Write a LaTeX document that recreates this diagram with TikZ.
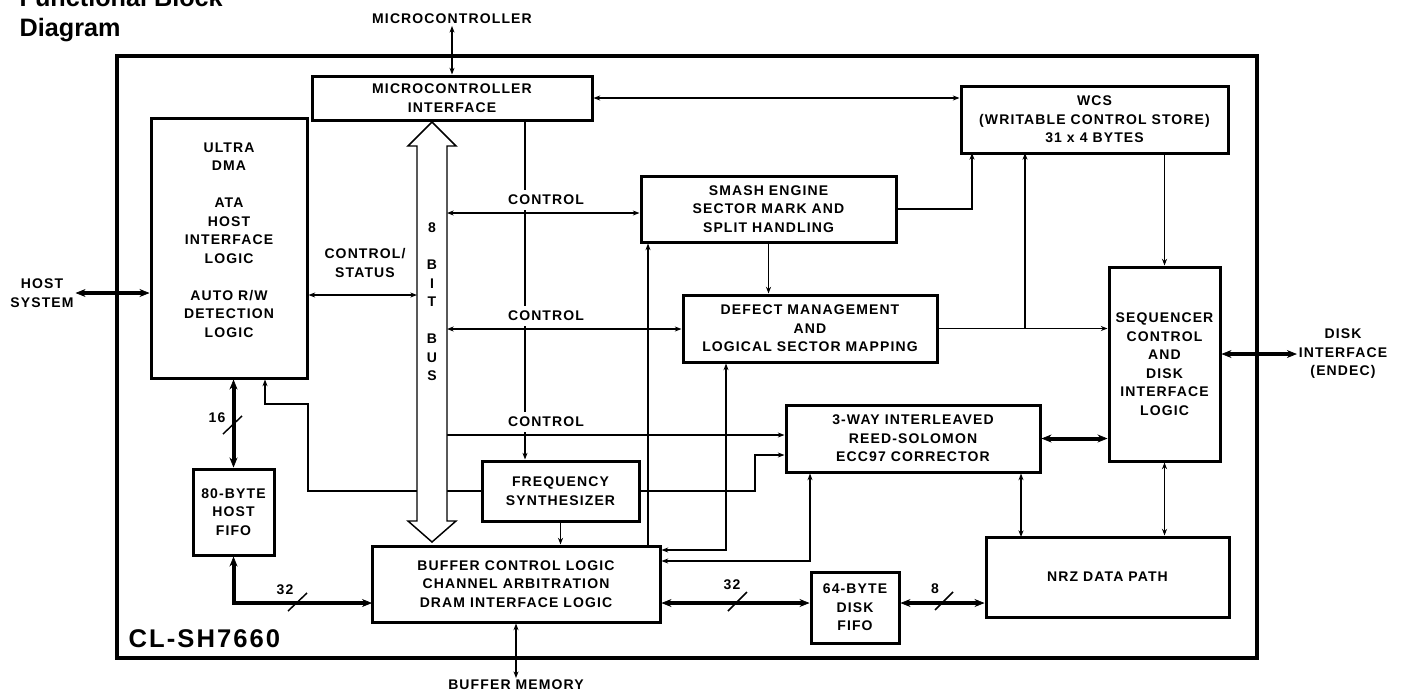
\documentclass[tikz,border=0pt]{standalone}
\usepackage{fontspec}
\setmainfont{Liberation Sans}
\newfontfamily\dgmfont{Liberation Sans}[LetterSpace=8]
\usetikzlibrary{arrows.meta}
\newcommand{\blkfont}{\dgmfont\bfseries\fontsize{10.5}{13.9}\selectfont}

\tikzset{every picture/.style={line width=1pt}}
\tikzset{
  blk/.style={draw, line width=2.25pt, inner sep=0pt, align=center, font=\blkfont},
  lbl/.style={inner sep=1pt, align=center, font=\blkfont},
  ctl/.style={lbl, fill=white, anchor=south, inner ysep=4pt},
  bus/.style={line width=3pt, >={Stealth[length=7.5pt,width=6pt,line width=0.5pt]}},
  >={Stealth[length=5pt,width=3.75pt]}
}

\begin{document}
\begin{tikzpicture}[x=0.75pt,y=0.75pt,yscale=-1,xscale=1]
\useasboundingbox (0,0) rectangle (1401,690);

% Text Node
\node[anchor=base west, align=left, inner sep=0pt, font=\fontsize{18.9}{22.3}\selectfont\bfseries] (title) at (19,36.5) {Functional Block\\Diagram};
%Shape: Rectangle
\draw[line width=3pt] (117,56) rectangle (1257,658);
% Text Node
\node[anchor=base west, inner sep=0pt, font=\dgmfont\bfseries\fontsize{19.2}{23}\selectfont] (chip) at (128,647) {CL-SH7660};

%Shape: blocks
\node[blk, minimum width=210pt, minimum height=33pt] (mci) at (452,98) {MICROCONTROLLER\\INTERFACE};
\node[blk, minimum width=117pt, minimum height=195pt] (ultra) at (229,248) {};
\node[lbl] (ultratxt) at (229,240) {ULTRA\\DMA\\[13.9pt]ATA\\HOST\\INTERFACE\\LOGIC\\[13.9pt]AUTO R/W\\DETECTION\\LOGIC};
\node[blk, minimum width=191.25pt, minimum height=49.5pt] (smash) at (768.5,209) {SMASH ENGINE\\SECTOR MARK AND\\SPLIT HANDLING};
\node[blk, minimum width=190.5pt, minimum height=50.25pt] (defect) at (810,328.5) {DEFECT MANAGEMENT\\AND\\LOGICAL SECTOR MAPPING};
\node[blk, minimum width=200.25pt, minimum height=50.25pt] (wcs) at (1094.5,119.5) {WCS\\(WRITABLE CONTROL STORE)\\31 x 4 BYTES};
\node[blk, minimum width=83.25pt, minimum height=145.5pt] (seq) at (1164.5,364) {SEQUENCER\\CONTROL\\AND\\DISK\\INTERFACE\\LOGIC};
\node[blk, minimum width=190.5pt, minimum height=50.25pt] (rs) at (913,438.5) {3-WAY INTERLEAVED\\REED-SOLOMON\\ECC97 CORRECTOR};
\node[blk, minimum width=117.75pt, minimum height=45pt] (freq) at (560.5,491) {FREQUENCY\\SYNTHESIZER};
\node[blk, minimum width=216pt, minimum height=57pt] (buffer) at (516,584) {BUFFER CONTROL LOGIC\\CHANNEL ARBITRATION\\DRAM INTERFACE LOGIC};
\node[blk, minimum width=60.75pt, minimum height=64.5pt] (hfifo) at (233.5,512) {80-BYTE\\HOST\\FIFO};
\node[blk, minimum width=66pt, minimum height=53.25pt] (dfifo) at (855,607.5) {64-BYTE\\DISK\\FIFO};
\node[blk, minimum width=182.25pt, minimum height=60pt] (nrz) at (1107.5,577) {NRZ DATA PATH};

% Text Node
\node[lbl] (uc) at (452,19) {MICROCONTROLLER};
\node[lbl] (bm) at (516,685) {BUFFER MEMORY};
\node[lbl] (host) at (42,293) {HOST\\SYSTEM};
\node[lbl] (cstxt) at (365,263) {CONTROL/\\STATUS};
\node[lbl] (disk) at (1343,354) {DISK\\INTERFACE\\(ENDEC)};

% bends and bus edges
\coordinate (cs) at (417,295);
\coordinate (c1) at (447,213);
\coordinate (c2) at (447,329);
\coordinate (c3) at (447,435);
\coordinate (vt) at (525,120);
\coordinate (sv) at (648,546);
\coordinate (dv) at (726,550);
\coordinate (rv) at (810,561);
\coordinate (fr) at (755,455);
\coordinate (fu) at (308,404);
\coordinate (fv) at (265,404);
\coordinate (sw) at (972,153);
\coordinate (dw) at (1025,153);
\coordinate (rn) at (1021,537);
\coordinate (d32) at (372,603);

%Straight Lines
\draw[<->] (uc) -- (mci);
\draw[<->] (buffer.south) -- (bm);
\draw[bus,<->] (host.east) -- (host.east -| ultra.west);
\draw[<->] (ultra.east |- cs) -- (cs);
\draw[<->] (mci.east) -- (mci.east -| wcs.west);
\draw[->] (vt) -- (vt |- freq.north);
\draw[<->] (c1) -- (c1 -| smash.west);
\draw[<->] (c2) -- (c2 -| defect.west);
\draw[->] (c3) -- (c3 -| rs.west);
\draw[->] (freq.south) -- (freq.south |- buffer.north);
\draw[->] (freq.east) -| (fr) -- (fr -| rs.west);
\draw[->] (freq.west) -| (fu) -- (fv) -- (fv |- ultra.south);
\draw[->] (sv) -- (sv |- smash.south);
\draw[<->] (dv |- defect.south) |- (dv -| buffer.east);
\draw[<->] (rv |- rs.south) |- (rv -| buffer.east);
\draw[->] (smash.south) -- (smash.south |- defect.north);
\draw[->] (smash.east) -| (sw);
\draw[->] (defect.east) -- (defect.east -| seq.west);
\draw[->] (defect.east -| dw) -- (dw);
\draw[->] (wcs.south -| seq.north) -- (seq.north);
\draw[<->] (rn |- rs.south) -- (rn);
\draw[<->] (seq.south) -- (seq.south |- nrz.north);
\draw[bus,<->] (rs.east) -- (rs.east -| seq.west);
\draw[bus,<->] (disk.west -| seq.east) -- (disk.west);
\draw[bus,<->] (hfifo.north |- ultra.south) -- (hfifo.north);
\draw[bus,<->] (d32) -| (hfifo.south);
\draw[bus,<->] (d32 -| buffer.east) -- (d32 -| dfifo.west);
\draw[bus,<->] (d32 -| dfifo.east) -- (d32 -| nrz.west);

% bus width marks
\draw[line width=1.1pt] (223,434) -- (242,416);
\draw[line width=1.1pt] (288,611) -- (307,593);
\draw[line width=1.1pt] (728,611) -- (747,592);
\draw[line width=1.1pt] (935,610) -- (953,592);
\node[lbl] (n16) at (217,418) {16};
\node[lbl] (n32a) at (285,590) {32};
\node[lbl] (n32b) at (732,585) {32};
\node[lbl] (n8) at (935,589) {8};

%Shape: 8 bit bus
\draw[line width=1.1pt, fill=white] (432,122) -- (456,146) -- (447,146) -- (447,521) -- (456,521) -- (432,542) -- (408,521) -- (417,521) -- (417,146) -- (408,146) -- cycle;
\node[lbl] (bustxt) at (432,302) {8\\[13.9pt]B\\I\\T\\[13.9pt]B\\U\\S};

% Text Node
\node[ctl] (ctl1) at (546,211) {CONTROL};
\node[ctl] (ctl2) at (546,327) {CONTROL};
\node[ctl] (ctl3) at (546,433) {CONTROL};

\end{tikzpicture}
\end{document}
